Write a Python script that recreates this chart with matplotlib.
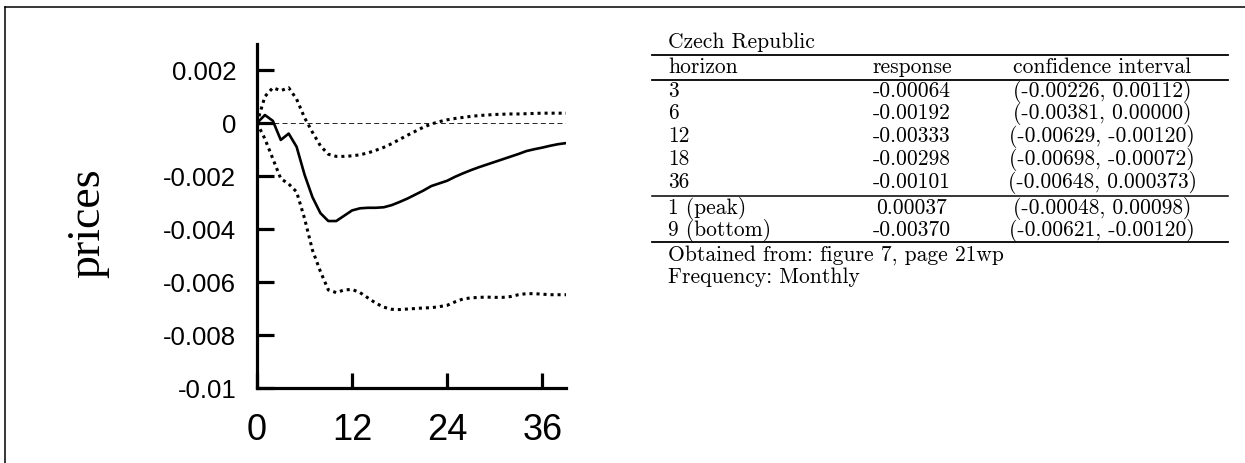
import matplotlib
matplotlib.use("Agg")
import matplotlib.pyplot as plt
from matplotlib.lines import Line2D
import numpy as np

# impulse response of prices (monthly)
horizon = list(range(40))
response = [0, 0.0003, 0.00008, -0.00064, -0.0004, -0.0009, -0.00195, -0.0028, -0.0034, -0.0037,
            -0.0037, -0.0035, -0.0033, -0.00322, -0.0032, -0.0032, -0.00318, -0.0031, -0.00298, -0.00285,
            -0.0027, -0.00255, -0.00238, -0.00228, -0.00218, -0.00203, -0.0019, -0.00178, -0.00167, -0.00157,
            -0.00147, -0.00137, -0.00127, -0.00117, -0.00106, -0.00099, -0.00093, -0.00086, -0.0008, -0.00076]
upper = [0, 0.001, 0.00133, 0.00122, 0.00133, 0.0009, 0.0002, -0.00035, -0.00086, -0.00118,
         -0.00126, -0.00126, -0.00124, -0.0012, -0.00113, -0.00103, -0.00092, -0.00078, -0.00062, -0.00046,
         -0.00031, -0.00016, -0.00004, 0.00005, 0.00012, 0.00017, 0.00021, 0.00025, 0.00028, 0.0003,
         0.00032, 0.00033, 0.00034, 0.00034, 0.00035, 0.00036, 0.00037, 0.00037, 0.00037, 0.00037]
lower = [0, -0.0006, -0.00135, -0.0021, -0.0023, -0.0026, -0.0036, -0.0048, -0.0056, -0.0063,
         -0.0064, -0.0063, -0.00628, -0.0064, -0.0066, -0.0068, -0.00695, -0.00703, -0.00704, -0.00702,
         -0.007, -0.00698, -0.00697, -0.00693, -0.00688, -0.00675, -0.00664, -0.0066, -0.00658, -0.00657,
         -0.00658, -0.00658, -0.00655, -0.00648, -0.00644, -0.00644, -0.00646, -0.00648, -0.00648, -0.00648]

yticks = [0.002, 0, -0.002, -0.004, -0.006, -0.008, -0.01]
ytick_labels = ["0.002", "0", "-0.002", "-0.004", "-0.006", "-0.008", "-0.01"]
xticks = [0, 12, 24, 36]

# summary table
table_title = "Czech Republic"
col_names = ["horizon", "response", "confidence interval"]
tab_horizon = ["3", "6", "12", "18", "36"]
tab_response = ["-0.00064", "-0.00192", "-0.00333", "-0.00298", "-0.00101"]
tab_ci = ["(-0.00226, 0.00112)", "(-0.00381, 0.00000)", "(-0.00629, -0.00120)",
          "(-0.00698, -0.00072)", "(-0.00648, 0.000373)"]
ext_horizon = ["1 (peak)", "9 (bottom)"]
ext_response = ["0.00037", "-0.00370"]
ext_ci = ["(-0.00048, 0.00098)", "(-0.00621, -0.00120)"]
notes = ["Obtained from: figure 7, page 21wp", "Frequency: Monthly"]

W, H = 1245, 464
fig = plt.figure(figsize=(W / 100, H / 100), dpi=100)

def fx(px):
    return px / W

def fy(py):
    return 1 - py / H

ax = fig.add_axes([fx(257), fy(389), fx(566) - fx(257), fy(45) - fy(389)])
ax.plot(horizon, response, color="black", lw=1.9)
ax.plot(horizon, upper, color="black", lw=2.2, linestyle=(0, (1, 1.3)))
ax.plot(horizon, lower, color="black", lw=2.2, linestyle=(0, (1, 1.3)))
ax.axhline(0, color="black", lw=0.6, linestyle=(0, (6, 4)))

ax.set_xlim(0, 39)
ax.set_ylim(-0.01, 0.00298)
ax.spines[["top", "right"]].set_visible(False)
for s in ["left", "bottom"]:
    ax.spines[s].set_linewidth(2.3)
ax.set_yticks(yticks)
ax.set_yticklabels(ytick_labels, fontfamily="Liberation Sans", fontsize=18.5)
ax.set_xticks(xticks)
ax.set_xticklabels([str(t) for t in xticks], fontfamily="Liberation Sans", fontsize=26)
ax.tick_params(axis="y", direction="in", length=12, width=2.3, pad=15)
ax.tick_params(axis="x", direction="in", length=11, width=2.3, pad=17)

fig.text(fx(88), fy(223), "prices", rotation=90, ha="center", va="center",
         fontfamily="Liberation Serif", fontsize=33)

# table on the right (baseline = row centre + 5px)
tfont = dict(fontfamily="cmr10", fontsize=15.5, va="baseline")
left, x_resp, x_ci = 668, 912, 1102
rule_l, rule_r = 652, 1228

def rule(py, lw=1.1):
    fig.add_artist(Line2D([fx(rule_l), fx(rule_r)], [fy(py), fy(py)], color="black", lw=lw))

def row(py, cells):
    fig.text(fx(left), fy(py + 5), cells[0], ha="left", **tfont)
    fig.text(fx(x_resp), fy(py + 5), cells[1], ha="center", **tfont)
    fig.text(fx(x_ci), fy(py + 5), cells[2], ha="center", **tfont)

fig.text(fx(left), fy(48), table_title, ha="left", **tfont)
rule(56, 1.3)
row(68, col_names)
rule(81, 1.3)
rows_y = [92, 114, 137, 160, 183]
for y, h, r, c in zip(rows_y, tab_horizon, tab_response, tab_ci):
    row(y, [h, r, c])
rule(197)
for y, h, r, c in zip([209, 231], ext_horizon, ext_response, ext_ci):
    row(y, [h, r, c])
rule(243, 1.3)
for y, t in zip([256, 278], notes):
    fig.text(fx(left), fy(y + 5), t, ha="left", **tfont)

# frame on left and top edges
fig.add_artist(Line2D([fx(5), fx(5)], [0, fy(8)], color="black", lw=1.1))
fig.add_artist(Line2D([fx(5), 1], [fy(8), fy(8)], color="black", lw=1.1))

fig.savefig("out.png", dpi=100)
